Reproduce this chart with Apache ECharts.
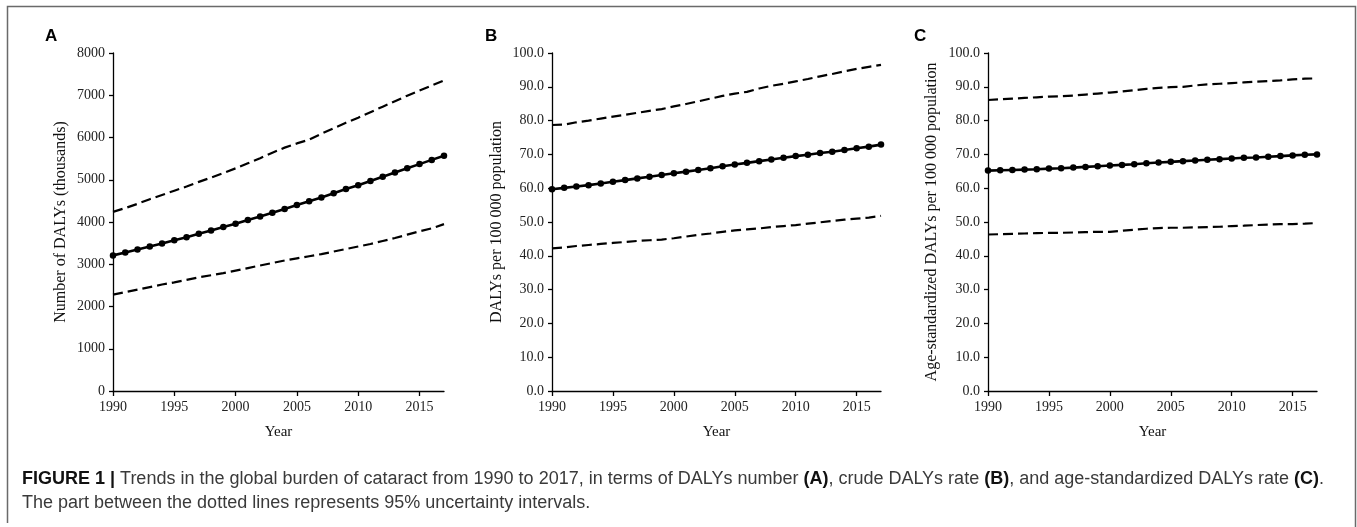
<!DOCTYPE html>
<html>
<head>
<meta charset="utf-8">
<script src="https://cdn.jsdelivr.net/npm/echarts@6/dist/echarts.min.js"></script>
<style>
html,body{margin:0;padding:0;background:#fff;}
#chart{width:1357px;height:527px;}
</style>
</head>
<body>
<div id="chart"></div>
<script>
const years = [1990,1991,1992,1993,1994,1995,1996,1997,1998,1999,2000,2001,2002,2003,2004,2005,2006,2007,2008,2009,2010,2011,2012,2013,2014,2015,2016,2017];
const xTickLabels = [1990,1995,2000,2005,2010,2015];

// Panel A: Number of DALYs (thousands)
const numMean  = [3210,3280,3350,3420,3490,3570,3640,3720,3800,3880,3960,4050,4130,4220,4310,4400,4490,4580,4680,4780,4870,4970,5070,5170,5270,5370,5470,5570];
const numUpper = [4240,4330,4430,4540,4640,4740,4840,4950,5050,5160,5270,5390,5510,5640,5760,5860,5950,6090,6220,6350,6470,6600,6730,6860,6990,7110,7230,7350];
const numLower = [2280,2340,2400,2460,2520,2570,2630,2690,2740,2790,2850,2910,2970,3030,3090,3140,3190,3240,3300,3360,3420,3480,3550,3620,3700,3780,3850,3950];

// Panel B: crude DALYs rate per 100 000
const crudeMean  = [59.7,60.1,60.5,60.9,61.4,61.9,62.4,62.9,63.4,63.9,64.4,64.9,65.4,65.9,66.5,67.0,67.5,68.0,68.5,69.0,69.5,69.9,70.4,70.8,71.3,71.8,72.3,72.9];
const crudeUpper = [78.7,78.8,79.5,80.0,80.6,81.2,81.7,82.3,82.9,83.4,84.2,84.9,85.7,86.5,87.3,88.0,88.5,89.5,90.3,90.9,91.6,92.3,93.1,93.8,94.6,95.3,95.9,96.5];
const crudeLower = [42.2,42.5,42.9,43.2,43.5,43.8,44.1,44.4,44.6,44.8,45.2,45.7,46.2,46.6,47.1,47.5,47.8,48.1,48.5,48.8,49.1,49.5,49.9,50.3,50.7,51.0,51.3,51.8];

// Panel C: age-standardized DALYs rate per 100 000
const asMean  = [65.2,65.3,65.4,65.5,65.6,65.8,65.9,66.1,66.3,66.5,66.7,66.9,67.1,67.4,67.6,67.8,68.0,68.2,68.4,68.6,68.8,69.0,69.1,69.3,69.5,69.7,69.9,70.0];
const asUpper = [86.1,86.3,86.5,86.7,86.9,87.1,87.2,87.4,87.7,88.0,88.3,88.6,89.0,89.4,89.7,89.9,90.0,90.4,90.7,90.9,91.1,91.3,91.5,91.7,91.9,92.2,92.4,92.5];
const asLower = [46.3,46.4,46.5,46.6,46.7,46.8,46.8,46.9,47.0,47.1,47.1,47.4,47.7,48.0,48.2,48.3,48.3,48.4,48.5,48.6,48.8,48.9,49.1,49.2,49.4,49.4,49.5,49.7];

const panels = [
  {letter:'A', name:'Number of DALYs (thousands)', mean:numMean, upper:numUpper, lower:numLower, yMax:8000, yInt:1000, dec:0},
  {letter:'B', name:'DALYs per 100 000 population', mean:crudeMean, upper:crudeUpper, lower:crudeLower, yMax:100, yInt:10, dec:1},
  {letter:'C', name:'Age-standardized DALYs per 100 000 population', mean:asMean, upper:asUpper, lower:asLower, yMax:100, yInt:10, dec:1}
];

const layout = [
  {left:113, width:331, gap:44, lx:45},
  {left:552, width:329, gap:47, lx:485},
  {left:988, width:329, gap:48, lx:914}
];

const serif = '"Liberation Serif", "DejaVu Serif", serif';
const sans = '"Liberation Sans", Arial, sans-serif';

const grid = [], xAxis = [], yAxis = [], series = [], graphic = [];
const pair = arr => years.map((y,i)=>[y, arr[i]]);

panels.forEach((p,i)=>{
  const L = layout[i];
  grid.push({left:L.left, width:L.width, top:53, height:338, containLabel:false});
  xAxis.push({
    type:'value', gridIndex:i, min:1990, max:2017, interval:5,
    name:'Year', nameLocation:'middle', nameGap:34,
    nameTextStyle:{fontFamily:serif, fontSize:15, color:'#111'},
    axisLine:{lineStyle:{color:'#000', width:1.3}},
    axisTick:{length:5, lineStyle:{color:'#000', width:1.3}, customValues:xTickLabels},
    axisLabel:{fontFamily:serif, fontSize:14, color:'#222', margin:9, customValues:xTickLabels,
      formatter:v=>String(v)},
    splitLine:{show:false}
  });
  yAxis.push({
    type:'value', gridIndex:i, min:0, max:p.yMax, interval:p.yInt,
    name:p.name, nameLocation:'middle', nameGap:L.gap, nameRotate:90,
    nameTextStyle:{fontFamily:serif, fontSize:16, color:'#111'},
    axisLine:{show:true, lineStyle:{color:'#000', width:1.3}},
    axisTick:{show:true, length:4, lineStyle:{color:'#000', width:1.3}},
    axisLabel:{fontFamily:serif, fontSize:14, color:'#222', margin:8,
      formatter:v=>v.toFixed(p.dec)},
    splitLine:{show:false}
  });
  series.push({
    type:'line', xAxisIndex:i, yAxisIndex:i, data:pair(p.upper),
    symbol:'none', lineStyle:{color:'#000', width:2.2, type:[10,5]}, silent:true, z:2
  });
  series.push({
    type:'line', xAxisIndex:i, yAxisIndex:i, data:pair(p.lower),
    symbol:'none', lineStyle:{color:'#000', width:2.2, type:[10,5]}, silent:true, z:2
  });
  series.push({
    type:'line', xAxisIndex:i, yAxisIndex:i, data:pair(p.mean),
    symbol:'circle', symbolSize:6.5, showSymbol:true,
    itemStyle:{color:'#000'}, lineStyle:{color:'#000', width:2.6}, silent:true, z:3
  });
  graphic.push({
    type:'text', left:L.lx, top:28,
    style:{text:p.letter, font:'bold 17px ' + sans, fill:'#000'}
  });
});

// figure border (left, top, right)
graphic.push({
  type:'polyline', silent:true,
  shape:{points:[[7.5,523],[7.5,6.5],[1355.5,6.5],[1355.5,527]]},
  style:{stroke:'#6a6a6a', lineWidth:1.5, fill:null}
});

// caption
graphic.push({
  type:'text', left:22, top:467,
  style:{
    text:'{b|FIGURE 1 |} Trends in the global burden of cataract from 1990 to 2017, in terms of DALYs number {b|(A)}, crude DALYs rate {b|(B)}, and age-standardized DALYs rate {b|(C)}.\nThe part between the dotted lines represents 95% uncertainty intervals.',
    font:'18px ' + sans, fill:'#3a3a3a', lineHeight:24,
    rich:{b:{fontWeight:'bold', fontFamily:sans, fontSize:18, fill:'#111', lineHeight:24}}
  }
});

const chart = echarts.init(document.getElementById('chart'), null, {renderer:'canvas'});
chart.setOption({
  backgroundColor:'#fff',
  animation:false,
  grid, xAxis, yAxis, series, graphic
});
</script>
</body>
</html>
